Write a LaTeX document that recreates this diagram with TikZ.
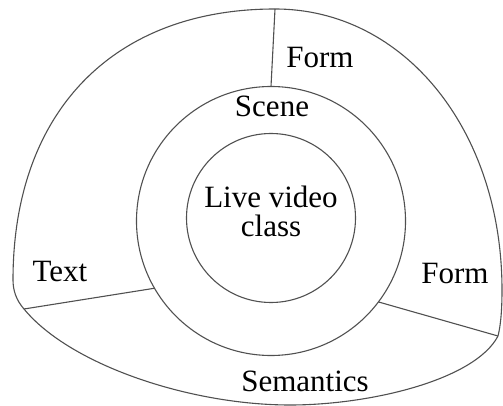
\documentclass[tikz,border=0pt]{standalone}
\usepackage{fontspec}
\setmainfont{Liberation Serif}
\usetikzlibrary{positioning}
\definecolor{rim}{HTML}{505050}

\begin{document}
\begin{tikzpicture}[x=0.5pt,y=-0.5pt,
  line/.style={draw=rim,line width=0.55pt},
  ring/.style={circle,line,inner sep=0pt,outer sep=0pt},
  lbl/.style={anchor=base,inner sep=0pt,font=\fontsize{15.5}{15}\selectfont}]
  \useasboundingbox (0,0) rectangle (503,406);
  \coordinate (topend) at (275,9);
  \coordinate (leftend) at (24,309);
  \coordinate (rightend) at (498,336);
  % outer boundary
  \draw[line] (13,280) .. controls (13,112) and (113,9) .. (topend)
    .. controls (404,9) and (502,130) .. (502,290)
    .. controls (502,315) and (500,328) .. (rightend)
    .. controls (475,380) and (370,405) .. (290,405)
    .. controls (190,405) and (70,365) .. (leftend)
    .. controls (16,300) and (13,290) .. cycle;
  \node[ring,minimum size=134.5pt] (scene) at (271,221) {};
  \node[ring,minimum size=84.5pt] (core) at (271,218) {};
  \draw[line] (scene.north) -- (topend);
  \draw[line] (scene.210.5) -- (leftend);
  \draw[line] (scene.-37.5) -- (rightend);
  \node[lbl] (live) at (271,208) {Live video};
  \node[lbl] (cls) at (271,237) {class};
  \node[lbl] (scn) at (272,117) {Scene};
  \node[lbl] (formtop) at (320,68) {Form};
  \node[lbl] (formright) at (455,284) {Form};
  \node[lbl] (txt) at (60,281) {Text};
  \node[lbl] (sem) at (305,391) {Semantics};
\end{tikzpicture}
\end{document}
